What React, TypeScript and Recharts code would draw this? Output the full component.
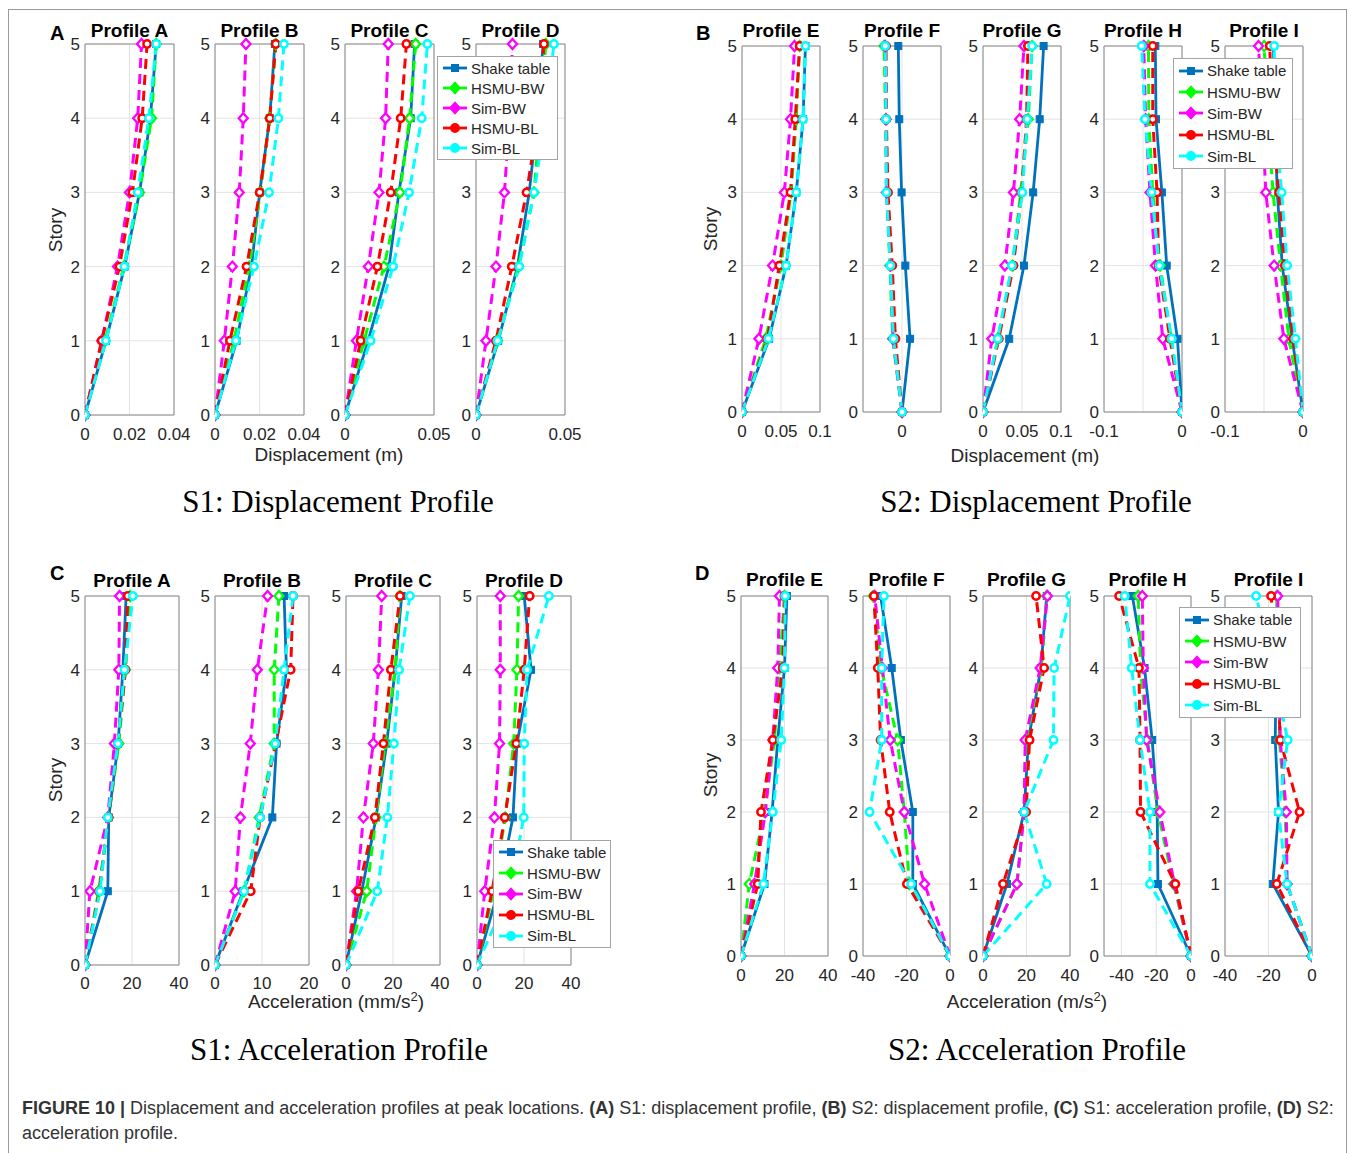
import React from 'react';
import { LineChart, Line, XAxis, YAxis, CartesianGrid, ReferenceArea } from 'recharts';

const stories = [0, 1, 2, 3, 4, 5];
const seriesNames = ['Shake table', 'HSMU-BW', 'Sim-BW', 'HSMU-BL', 'Sim-BL'];

// S1 peak displacement (m), profiles A-D, stories 0..5
const s1DispProfiles = ['Profile A', 'Profile B', 'Profile C', 'Profile D'];
const s1DispShake = [
  [0, 0.0094, 0.0178, 0.0245, 0.0294, 0.032],
  [0, 0.0097, 0.0164, 0.0201, 0.0246, 0.0269],
  [0, 0.013, 0.0247, 0.0303, 0.0369, 0.0391],
  [0, 0.0125, 0.0233, 0.0299, 0.0345, 0.0377],
];
const s1DispHsmuBw = [
  [0, 0.009, 0.0174, 0.0245, 0.0299, 0.032],
  [0, 0.0085, 0.0154, 0.0204, 0.0246, 0.0273],
  [0, 0.0107, 0.0219, 0.0309, 0.0363, 0.0397],
  [0, 0.0121, 0.0239, 0.0326, 0.036, 0.0392],
];
const s1DispSimBw = [
  [0, 0.0075, 0.0146, 0.02, 0.0237, 0.0254],
  [0, 0.0042, 0.0078, 0.0109, 0.0127, 0.0139],
  [0, 0.0064, 0.0131, 0.0191, 0.0228, 0.0243],
  [0, 0.0056, 0.0112, 0.016, 0.0187, 0.0205],
];
const s1DispHsmuBl = [
  [0, 0.0075, 0.0155, 0.0213, 0.0257, 0.0279],
  [0, 0.0067, 0.0142, 0.0201, 0.0246, 0.0273],
  [0, 0.0088, 0.0182, 0.0257, 0.0313, 0.0345],
  [0, 0.0112, 0.0201, 0.0284, 0.035, 0.0382],
];
const s1DispSimBl = [
  [0, 0.0094, 0.0177, 0.0237, 0.0287, 0.032],
  [0, 0.0094, 0.0175, 0.0243, 0.0285, 0.031],
  [0, 0.0144, 0.027, 0.036, 0.0431, 0.0463],
  [0, 0.0121, 0.0243, 0.0326, 0.039, 0.0438],
];

// S2 peak displacement (m), profiles E-I
const s2DispProfiles = ['Profile E', 'Profile F', 'Profile G', 'Profile H', 'Profile I'];
const s2DispShake = [
  [0, 0.0348, 0.0565, 0.0696, 0.0783, 0.0813],
  [0, 0.0207, 0.0086, -0.001, -0.007, -0.0095],
  [0, 0.0336, 0.0525, 0.0643, 0.0727, 0.0777],
  [0, -0.0058, -0.0196, -0.0258, -0.0333, -0.0342],
  [0, -0.0139, -0.0266, -0.033, -0.036, -0.038],
];
const s2DispHsmuBw = [
  [0, 0.0304, 0.05, 0.063, 0.0696, 0.0739],
  [0, -0.024, -0.031, -0.039, -0.042, -0.046],
  [0, 0.0189, 0.0378, 0.0483, 0.058, 0.063],
  [0, -0.014, -0.028, -0.0375, -0.0425, -0.043],
  [0, -0.0181, -0.0287, -0.0384, -0.045, -0.0498],
];
const s2DispSimBw = [
  [0, 0.0217, 0.0391, 0.0543, 0.0622, 0.0674],
  [0, -0.023, -0.029, -0.04, -0.041, -0.043],
  [0, 0.0113, 0.028, 0.039, 0.047, 0.0525],
  [0, -0.0246, -0.034, -0.041, -0.0467, -0.049],
  [0, -0.0245, -0.0371, -0.0477, -0.052, -0.057],
];
const s2DispHsmuBl = [
  [0, 0.0326, 0.0478, 0.0622, 0.0683, 0.0739],
  [0, -0.017, -0.025, -0.036, -0.04, -0.041],
  [0, 0.0202, 0.039, 0.0496, 0.0559, 0.0576],
  [0, -0.0154, -0.03, -0.032, -0.0375, -0.0375],
  [0, -0.0127, -0.0232, -0.0308, -0.04, -0.0426],
];
const s2DispSimBl = [
  [0, 0.0339, 0.0565, 0.0696, 0.0783, 0.0813],
  [0, -0.022, -0.03, -0.04, -0.041, -0.043],
  [0, 0.0189, 0.037, 0.0504, 0.0567, 0.063],
  [0, -0.0133, -0.029, -0.039, -0.0475, -0.0517],
  [0, -0.0097, -0.0203, -0.0274, -0.035, -0.037],
];

// S1 peak acceleration (mm/s^2), profiles A-D
const s1AccProfiles = ['Profile A', 'Profile B', 'Profile C', 'Profile D'];
const s1AccShake = [
  [0, 9.7, 10.1, 14.1, 16.1, 17.5],
  [0, 6.0, 12.2, 13.1, 15.2, 14.7],
  [0, 6.7, 12.8, 17.3, 20.9, 23.7],
  [0, 9, 15.3, 17, 23, 20.1],
];
const s1AccHsmuBw = [
  [0, 5.8, 10, 14.4, 17.2, 19.2],
  [0, 6.2, 9.4, 12.6, 12.6, 13.6],
  [0, 8.8, 12.8, 16.6, 20.9, 23],
  [0, 7, 12, 15.6, 17, 17.7],
];
const s1AccSimBw = [
  [0, 2.1, 9.7, 12.5, 14.4, 14.7],
  [0, 4.3, 5.4, 7.5, 9, 11.2],
  [0, 4.5, 7.4, 11.6, 13.8, 15.2],
  [0, 3.3, 7.4, 9.6, 9.9, 9.9],
];
const s1AccHsmuBl = [
  [0, 6.1, 10, 14, 17.2, 18.2],
  [0, 7.6, 9.6, 12.9, 16.1, 16.6],
  [0, 5.2, 12.3, 15.9, 19.1, 23],
  [0, 6.4, 11.8, 16.7, 20.1, 22.4],
];
const s1AccSimBl = [
  [0, 6.4, 9.7, 14, 16.8, 20.4],
  [0, 6.2, 9.6, 12.8, 14.7, 16.6],
  [0, 13.3, 17.6, 20.4, 22.6, 27.2],
  [0, 14, 19.9, 20.1, 21.3, 30.6],
];

// S2 peak acceleration (m/s^2), profiles E-I
const s2AccProfiles = ['Profile E', 'Profile F', 'Profile G', 'Profile H', 'Profile I'];
const s2AccShake = [
  [0, 10.8, 14.3, 16.9, 20, 21.1],
  [0, -17.1, -17.1, -22.6, -26.8, -31.9],
  [0, 11, 18.9, 20.9, 26.6, 29.3],
  [0, -19, -19.4, -22.3, -26.7, -33.7],
  [0, -18, -15.4, -16.9, -16.5, -16],
];
const s2AccHsmuBw = [
  [0, 3.8, 10.8, 15.4, 17.7, 20],
  [0, -18.7, -21, -24.1, -31.6, -35.3],
  [0, 15.6, 18.9, 19.8, 27, 29.3],
  [0, -10, -19, -25.1, -29, -30.3],
  [0, -11.5, -12.3, -15, -15, -16.2],
];
const s2AccSimBw = [
  [0, 6.2, 11.2, 14.6, 16.9, 17.7],
  [0, -11.7, -21, -27.5, -31.1, -34.6],
  [0, 15.6, 18.9, 19.4, 26.3, 29.6],
  [0, -9.5, -17.9, -25.5, -27.4, -28],
  [0, -11.5, -11.8, -14.6, -15, -15.8],
];
const s2AccHsmuBl = [
  [0, 7.7, 9.2, 14.6, 19.2, 20],
  [0, -19.8, -27.7, -31.9, -33.2, -35],
  [0, 9.2, 19.8, 21.4, 28.1, 24.4],
  [0, -9, -29, -29.3, -29.9, -41.3],
  [0, -16.2, -5.7, -14.6, -16, -18.8],
];
const s2AccSimBl = [
  [0, 10.3, 14.6, 18.5, 20, 20.3],
  [0, -17.9, -37, -31.4, -31.4, -30.4],
  [0, 29.3, 18.9, 32.4, 32.7, 40],
  [0, -23.6, -23.6, -29.3, -34.1, -38.1],
  [0, -11.5, -15.4, -11.2, -18, -25.7],
];

const FONT = '"Liberation Sans", Arial, Helvetica, sans-serif';
const INK = '#262626';

type MarkerKind = 'square' | 'diamond' | 'circle';

const SERIES: { key: string; color: string; dash?: string; marker: MarkerKind }[] = [
  { key: 'st', color: '#0072BD', marker: 'square' },
  { key: 'hbw', color: '#00FF00', dash: '10 6', marker: 'diamond' },
  { key: 'sbw', color: '#FF00FF', dash: '10 6', marker: 'diamond' },
  { key: 'hbl', color: '#FF0000', dash: '10 6', marker: 'circle' },
  { key: 'sbl', color: '#00FFFF', dash: '10 6', marker: 'circle' },
];

interface AxisSpec {
  domain: [number, number];
  ticks: number[];
  labels?: number[];
  // story labels sitting under the legend box
  coveredStories?: number[];
}

interface PanelSpec {
  names: string[];
  series: number[][][];
  lefts: number[];
  width: number;
  top: number;
  height: number;
  titleY: number;
  tickGap: number;
  axes: AxisSpec[];
}

const dispS1: PanelSpec = {
  names: s1DispProfiles,
  series: [s1DispShake, s1DispHsmuBw, s1DispSimBw, s1DispHsmuBl, s1DispSimBl],
  lefts: [85, 215, 345, 476],
  width: 89,
  top: 44,
  height: 371,
  titleY: 31,
  tickGap: 13,
  axes: [
    { domain: [0, 0.04], ticks: [0, 0.02, 0.04] },
    { domain: [0, 0.04], ticks: [0, 0.02, 0.04] },
    { domain: [0, 0.05], ticks: [0, 0.05] },
    { domain: [0, 0.05], ticks: [0, 0.05], coveredStories: [4] },
  ],
};

const dispS2: PanelSpec = {
  names: s2DispProfiles,
  series: [s2DispShake, s2DispHsmuBw, s2DispSimBw, s2DispHsmuBl, s2DispSimBl],
  lefts: [742, 863, 983, 1104, 1225],
  width: 78,
  top: 46,
  height: 366,
  titleY: 31,
  tickGap: 13,
  axes: [
    { domain: [0, 0.1], ticks: [0, 0.05, 0.1] },
    { domain: [-0.1, 0.1], ticks: [0] },
    { domain: [0, 0.1], ticks: [0, 0.05, 0.1] },
    { domain: [-0.1, 0], ticks: [-0.1, -0.05, 0], labels: [-0.1, 0] },
    { domain: [-0.1, 0], ticks: [-0.1, -0.05, 0], labels: [-0.1, 0], coveredStories: [4] },
  ],
};

const accS1: PanelSpec = {
  names: s1AccProfiles,
  series: [s1AccShake, s1AccHsmuBw, s1AccSimBw, s1AccHsmuBl, s1AccSimBl],
  lefts: [85, 215, 346, 477],
  width: 94,
  top: 596,
  height: 369,
  titleY: 581,
  tickGap: 12,
  axes: [
    { domain: [0, 40], ticks: [0, 20, 40] },
    { domain: [0, 20], ticks: [0, 10, 20] },
    { domain: [0, 40], ticks: [0, 20, 40] },
    { domain: [0, 40], ticks: [0, 20, 40] },
  ],
};

const accS2: PanelSpec = {
  names: s2AccProfiles,
  series: [s2AccShake, s2AccHsmuBw, s2AccSimBw, s2AccHsmuBl, s2AccSimBl],
  lefts: [741, 863, 983, 1104, 1225],
  width: 87,
  top: 596,
  height: 360,
  titleY: 580,
  tickGap: 13,
  axes: [
    { domain: [0, 40], ticks: [0, 20, 40] },
    { domain: [-40, 0], ticks: [-40, -20, 0] },
    { domain: [0, 40], ticks: [0, 20, 40] },
    { domain: [-50, 0], ticks: [-40, -20, 0] },
    { domain: [-40, 0], ticks: [-40, -20, 0], coveredStories: [4] },
  ],
};

function Marker({ cx, cy, kind, color, solid }: { cx?: number; cy?: number; kind: MarkerKind; color: string; solid?: boolean }) {
  if (cx == null || cy == null) return null;
  if (kind === 'square') {
    return <rect x={cx - 3.5} y={cy - 3.5} width={7} height={7} fill={color} stroke={color} strokeWidth={1} />;
  }
  if (kind === 'diamond') {
    const pts = `${cx},${cy - 5} ${cx + 4.5},${cy} ${cx},${cy + 5} ${cx - 4.5},${cy}`;
    return <polygon points={pts} fill={solid ? color : '#fff'} stroke={color} strokeWidth={2.3} />;
  }
  return <circle cx={cx} cy={cy} r={3.7} fill={solid ? color : '#fff'} stroke={color} strokeWidth={2.5} />;
}

const ML = 40;
const MT = 12;
const MR = 26;
const MB = 40;

function ProfilePlot({ spec, index }: { spec: PanelSpec; index: number }) {
  const axis = spec.axes[index];
  const rows = stories.map((story, i) => {
    const row: Record<string, number> = { story };
    SERIES.forEach((s, k) => {
      row[s.key] = spec.series[k][index][i];
    });
    return row;
  });
  const left = spec.lefts[index];
  const fmtX = (v: number) => (axis.labels && !axis.labels.includes(v) ? '' : String(v));
  const fmtY = (v: number) => (axis.coveredStories && axis.coveredStories.includes(v) ? '' : String(v));

  return (
    <>
      <div
        style={{
          position: 'absolute',
          left: left + spec.width / 2,
          top: spec.titleY,
          transform: 'translate(-50%, -50%)',
          fontWeight: 700,
          fontSize: 19,
          color: '#000',
          whiteSpace: 'nowrap',
        }}
      >
        {spec.names[index]}
      </div>
      <div style={{ position: 'absolute', left: left - ML, top: spec.top - MT }}>
        <LineChart
          layout="vertical"
          width={spec.width + ML + MR}
          height={spec.height + MT + MB}
          data={rows}
          margin={{ top: MT, right: MR, bottom: 0, left: 0 }}
          style={{ fontFamily: FONT }}
        >
          <CartesianGrid stroke="#e3e3e3" strokeWidth={1} />
          <XAxis
            type="number"
            domain={axis.domain}
            ticks={axis.ticks}
            allowDataOverflow
            interval={0}
            height={MB}
            axisLine={false}
            tickLine={false}
            tickSize={0}
            tickMargin={spec.tickGap}
            tickFormatter={fmtX}
            tick={{ fontSize: 17, fill: INK }}
          />
          <YAxis
            type="number"
            dataKey="story"
            domain={[0, 5]}
            ticks={stories}
            reversed
            interval={0}
            width={ML}
            axisLine={false}
            tickLine={false}
            tickSize={0}
            tickMargin={5}
            tickFormatter={fmtY}
            tick={{ fontSize: 17, fill: INK }}
          />
          <ReferenceArea
            x1={axis.domain[0]}
            x2={axis.domain[1]}
            y1={0}
            y2={5}
            fill="none"
            fillOpacity={0}
            stroke="#8a8a8a"
            strokeWidth={1}
            ifOverflow="visible"
          />
          {SERIES.map((s) => (
            <Line
              key={s.key}
              type="linear"
              dataKey={s.key}
              stroke={s.color}
              strokeWidth={s.dash ? 3 : 2.8}
              strokeDasharray={s.dash}
              isAnimationActive={false}
              activeDot={false}
              dot={(p: any) => (
                <Marker key={`${s.key}-${p.index}`} cx={p.cx} cy={p.cy} kind={s.marker} color={s.color} />
              )}
            />
          ))}
        </LineChart>
      </div>
    </>
  );
}

function SeriesLegend({ left, top, width, height }: { left: number; top: number; width: number; height: number }) {
  const rowH = (height - 4) / SERIES.length;
  return (
    <div
      style={{
        position: 'absolute',
        left,
        top,
        width,
        height,
        boxSizing: 'border-box',
        border: '1px solid #a3a3a3',
        background: '#fff',
        paddingTop: 1,
      }}
    >
      {SERIES.map((s, i) => (
        <div key={s.key} style={{ display: 'flex', alignItems: 'center', height: rowH }}>
          <svg width={30} height={14} style={{ flex: 'none', marginLeft: 2 }}>
            <line x1={3} y1={7} x2={27} y2={7} stroke={s.color} strokeWidth={2.8} />
            <Marker cx={15} cy={7} kind={s.marker} color={s.color} solid />
          </svg>
          <span style={{ fontSize: 15, color: INK, marginLeft: 1, whiteSpace: 'nowrap' }}>{seriesNames[i]}</span>
        </div>
      ))}
    </div>
  );
}

function Centered({ x, y, children, style }: { x: number; y: number; children: React.ReactNode; style?: React.CSSProperties }) {
  return (
    <div
      style={{
        position: 'absolute',
        left: x,
        top: y,
        transform: 'translate(-50%, -50%)',
        whiteSpace: 'nowrap',
        ...style,
      }}
    >
      {children}
    </div>
  );
}

function Panel({
  spec,
  letter,
  letterX,
  letterY,
  storyX,
  storyY,
  xLabel,
  xLabelX,
  xLabelY,
  caption,
  captionX,
  captionY,
  legend,
}: {
  spec: PanelSpec;
  letter: string;
  letterX: number;
  letterY: number;
  storyX: number;
  storyY: number;
  xLabel: React.ReactNode;
  xLabelX: number;
  xLabelY: number;
  caption: string;
  captionX: number;
  captionY: number;
  legend: { left: number; top: number; width: number; height: number };
}) {
  return (
    <>
      <div
        style={{
          position: 'absolute',
          left: letterX,
          top: letterY,
          transform: 'translateY(-50%)',
          fontWeight: 700,
          fontSize: 20,
          color: '#000',
        }}
      >
        {letter}
      </div>
      {spec.names.map((_, i) => (
        <ProfilePlot key={i} spec={spec} index={i} />
      ))}
      <Centered x={storyX} y={storyY} style={{ fontSize: 19, color: INK, transform: 'translate(-50%, -50%) rotate(-90deg)' }}>
        Story
      </Centered>
      <Centered x={xLabelX} y={xLabelY} style={{ fontSize: 19, color: INK }}>
        {xLabel}
      </Centered>
      <Centered
        x={captionX}
        y={captionY}
        style={{ fontFamily: '"Liberation Serif", "Times New Roman", serif', fontSize: 31, color: '#000' }}
      >
        {caption}
      </Centered>
      <SeriesLegend {...legend} />
    </>
  );
}

export default function App() {
  return (
    <div
      style={{
        position: 'relative',
        width: 1363,
        height: 1153,
        overflow: 'hidden',
        background: '#fff',
        fontFamily: FONT,
      }}
    >
      <style>{'body{margin:0}'}</style>
      <div
        style={{
          position: 'absolute',
          left: 8,
          top: 9,
          width: 1339,
          height: 1200,
          boxSizing: 'border-box',
          border: '1px solid #9a9a9a',
        }}
      />

      <Panel
        spec={dispS1}
        letter="A"
        letterX={50}
        letterY={33}
        storyX={56}
        storyY={230}
        xLabel="Displacement (m)"
        xLabelX={329}
        xLabelY={455}
        caption="S1: Displacement Profile"
        captionX={338}
        captionY={502}
        legend={{ left: 437, top: 56, width: 121, height: 104 }}
      />
      <Panel
        spec={dispS2}
        letter="B"
        letterX={696}
        letterY={33}
        storyX={711}
        storyY={229}
        xLabel="Displacement (m)"
        xLabelX={1025}
        xLabelY={456}
        caption="S2: Displacement Profile"
        captionX={1036}
        captionY={502}
        legend={{ left: 1173, top: 58, width: 120, height: 111 }}
      />
      <Panel
        spec={accS1}
        letter="C"
        letterX={50}
        letterY={573}
        storyX={56}
        storyY={780}
        xLabel={
          <>
            Acceleration (mm/s<sup style={{ fontSize: 13 }}>2</sup>)
          </>
        }
        xLabelX={336}
        xLabelY={1001}
        caption="S1: Acceleration Profile"
        captionX={339}
        captionY={1050}
        legend={{ left: 493, top: 840, width: 118, height: 108 }}
      />
      <Panel
        spec={accS2}
        letter="D"
        letterX={695}
        letterY={573}
        storyX={711}
        storyY={775}
        xLabel={
          <>
            Acceleration (m/s<sup style={{ fontSize: 13 }}>2</sup>)
          </>
        }
        xLabelX={1027}
        xLabelY={1001}
        caption="S2: Acceleration Profile"
        captionX={1037}
        captionY={1050}
        legend={{ left: 1179, top: 607, width: 122, height: 111 }}
      />

      <div
        style={{
          position: 'absolute',
          left: 22,
          top: 1096,
          fontSize: 18,
          lineHeight: '25px',
          color: '#333',
          whiteSpace: 'nowrap',
        }}
      >
        <b>FIGURE 10 |</b> Displacement and acceleration profiles at peak locations. <b>(A)</b> S1: displacement profile,{' '}
        <b>(B)</b> S2: displacement profile, <b>(C)</b> S1: acceleration profile, <b>(D)</b> S2:
        <br />
        acceleration profile.
      </div>
    </div>
  );
}
